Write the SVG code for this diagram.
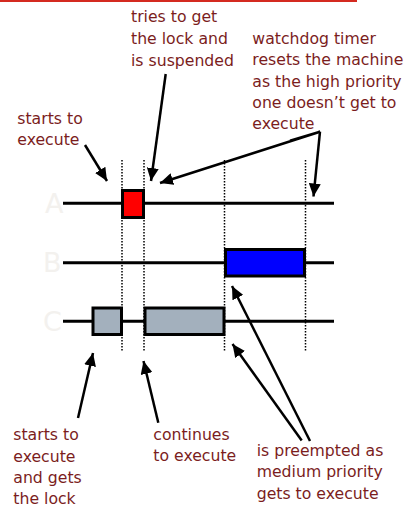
<svg xmlns="http://www.w3.org/2000/svg" width="407" height="508" viewBox="0 0 407 508">
<style>
.lbl{font-family:"DejaVu Sans","Liberation Sans",sans-serif;font-size:15.7px;fill:#7b1d1d}
.row{font-family:"DejaVu Sans","Liberation Sans",sans-serif;font-size:27px;fill:#f3f1ee}
.tl{stroke:#000;stroke-width:3;fill:none}
.dot{stroke:#000;stroke-width:1.5;stroke-dasharray:1.5 1.5;fill:none}
.box{stroke:#000;stroke-width:3}
.arr{stroke:#000;stroke-width:2.5;fill:none;marker-end:url(#ah)}
</style>
<defs>
<marker id="ah" markerUnits="userSpaceOnUse" markerWidth="14" markerHeight="12" viewBox="0 0 14 12" refX="13" refY="6" orient="auto">
<path d="M0,0 L13,6 L0,12 z" fill="#000"/>
</marker>
</defs>
<rect width="407" height="508" fill="#fff"/>
<line x1="0" y1="1" x2="357" y2="1" stroke="#d42a20" stroke-width="2"/>

<g id="labels-rows">
<text class="row" x="45" y="213">A</text>
<text class="row" x="43" y="272">B</text>
<text class="row" x="43" y="331">C</text>
</g>

<g id="timelines">
<line class="tl" x1="63" y1="203.3" x2="334" y2="203.3"/>
<line class="tl" x1="63" y1="262.7" x2="334" y2="262.7"/>
<line class="tl" x1="63" y1="321.3" x2="334" y2="321.3"/>
<line class="dot" x1="122" y1="160" x2="122" y2="351"/>
<line class="dot" x1="144" y1="160" x2="144" y2="351"/>
<line class="dot" x1="224.5" y1="160" x2="224.5" y2="351"/>
<line class="dot" x1="305.5" y1="160" x2="305.5" y2="351"/>
</g>

<g id="task-a"><rect class="box" x="122.5" y="190.5" width="21" height="27" fill="#ff0000"/></g>
<g id="task-b"><rect class="box" x="225.5" y="249.5" width="79" height="26.5" fill="#0000ff"/></g>
<g id="task-c1"><rect class="box" x="93" y="308" width="28.5" height="26.5" fill="#a3b0bd"/></g>
<g id="task-c2"><rect class="box" x="145" y="308" width="79" height="26.5" fill="#a3b0bd"/></g>

<g id="connectors">
<line class="arr" x1="85" y1="145" x2="107" y2="181"/>
<line class="arr" x1="165.7" y1="74" x2="151" y2="181"/>
<polyline class="arr" points="290,140.8 320,131.7 160,183"/>
<line class="arr" x1="320" y1="131.7" x2="313.5" y2="196.5"/>
<line class="arr" x1="78" y1="418" x2="93" y2="353"/>
<line class="arr" x1="158.3" y1="422.7" x2="143.5" y2="361"/>
<line class="arr" x1="310" y1="441" x2="232" y2="286"/>
<line class="arr" x1="301.7" y1="440.5" x2="232.5" y2="344"/>
</g>

<g id="text-tries">
<text class="lbl" x="131" y="22.3">tries to get</text>
<text class="lbl" x="131" y="44.3">the lock and</text>
<text class="lbl" x="131" y="66">is suspended</text>
</g>
<g id="text-watchdog">
<text class="lbl" x="252.3" y="44">watchdog timer</text>
<text class="lbl" x="252.3" y="65.2">resets the machine</text>
<text class="lbl" x="252.3" y="86.5">as the high priority</text>
<text class="lbl" x="252.3" y="107.8">one doesn’t get to</text>
<text class="lbl" x="252.3" y="129.2">execute</text>
</g>
<g id="text-starts">
<text class="lbl" x="17.3" y="124">starts to</text>
<text class="lbl" x="17.3" y="145">execute</text>
</g>
<g id="text-startslock">
<text class="lbl" x="13.3" y="440">starts to</text>
<text class="lbl" x="13.3" y="461.5">execute</text>
<text class="lbl" x="13.3" y="483">and gets</text>
<text class="lbl" x="13.3" y="504.3">the lock</text>
</g>
<g id="text-continues">
<text class="lbl" x="153.3" y="439.5">continues</text>
<text class="lbl" x="153.3" y="461">to execute</text>
</g>
<g id="text-preempted">
<text class="lbl" x="256.7" y="456">is preempted as</text>
<text class="lbl" x="256.7" y="477.3">medium priority</text>
<text class="lbl" x="256.7" y="498.5">gets to execute</text>
</g>
</svg>
